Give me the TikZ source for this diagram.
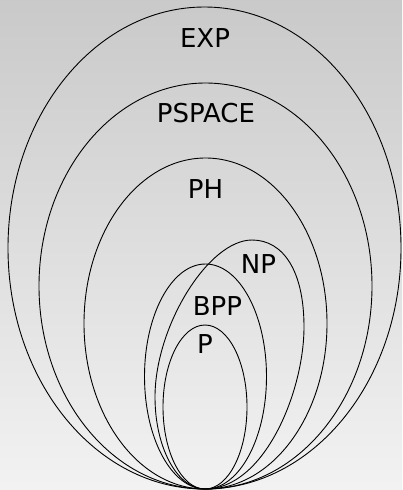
\documentclass[tikz,border=0pt]{standalone}
\usepackage{fontspec}
\setmainfont{DejaVu Sans}
\begin{document}
\begin{tikzpicture}[x=1pt,y=-1pt,
  set/.style={draw=black,line width=0.9pt},
  lab/.style={font=\fontsize{26pt}{30pt}\selectfont,inner sep=0pt,anchor=center}]
\shade[top color=black!21,bottom color=black!5] (0,0) rectangle (402,490);
\useasboundingbox (0,0) rectangle (402,490);
\draw[set] (204.5,248) ellipse [x radius=196.5,y radius=241];
\draw[set] (205.5,286) ellipse [x radius=166.5,y radius=203];
\draw[set] (205.5,323.5) ellipse [x radius=121.5,y radius=165.5];
\draw[set] (205.5,376.5) ellipse [x radius=61,y radius=112.5];
\draw[set] (205,407) ellipse [x radius=42,y radius=82];
\draw[set] (252,240) .. controls (283,240) and (304,270.5) .. (304,327)
  .. controls (304,392) and (264,489) .. (205,489)
  .. controls (177.4,489) and (155,447.8) .. (155,397)
  .. controls (155,326.4) and (208.4,240) .. cycle;
\node[lab] (exp) at (205,38) {EXP};
\node[lab] (pspace) at (206,113) {PSPACE};
\node[lab] (ph) at (205.5,189) {PH};
\node[lab] (np) at (258.5,264) {NP};
\node[lab] (bpp) at (217.5,306) {BPP};
\node[lab] (p) at (205,344) {P};
\end{tikzpicture}
\end{document}
